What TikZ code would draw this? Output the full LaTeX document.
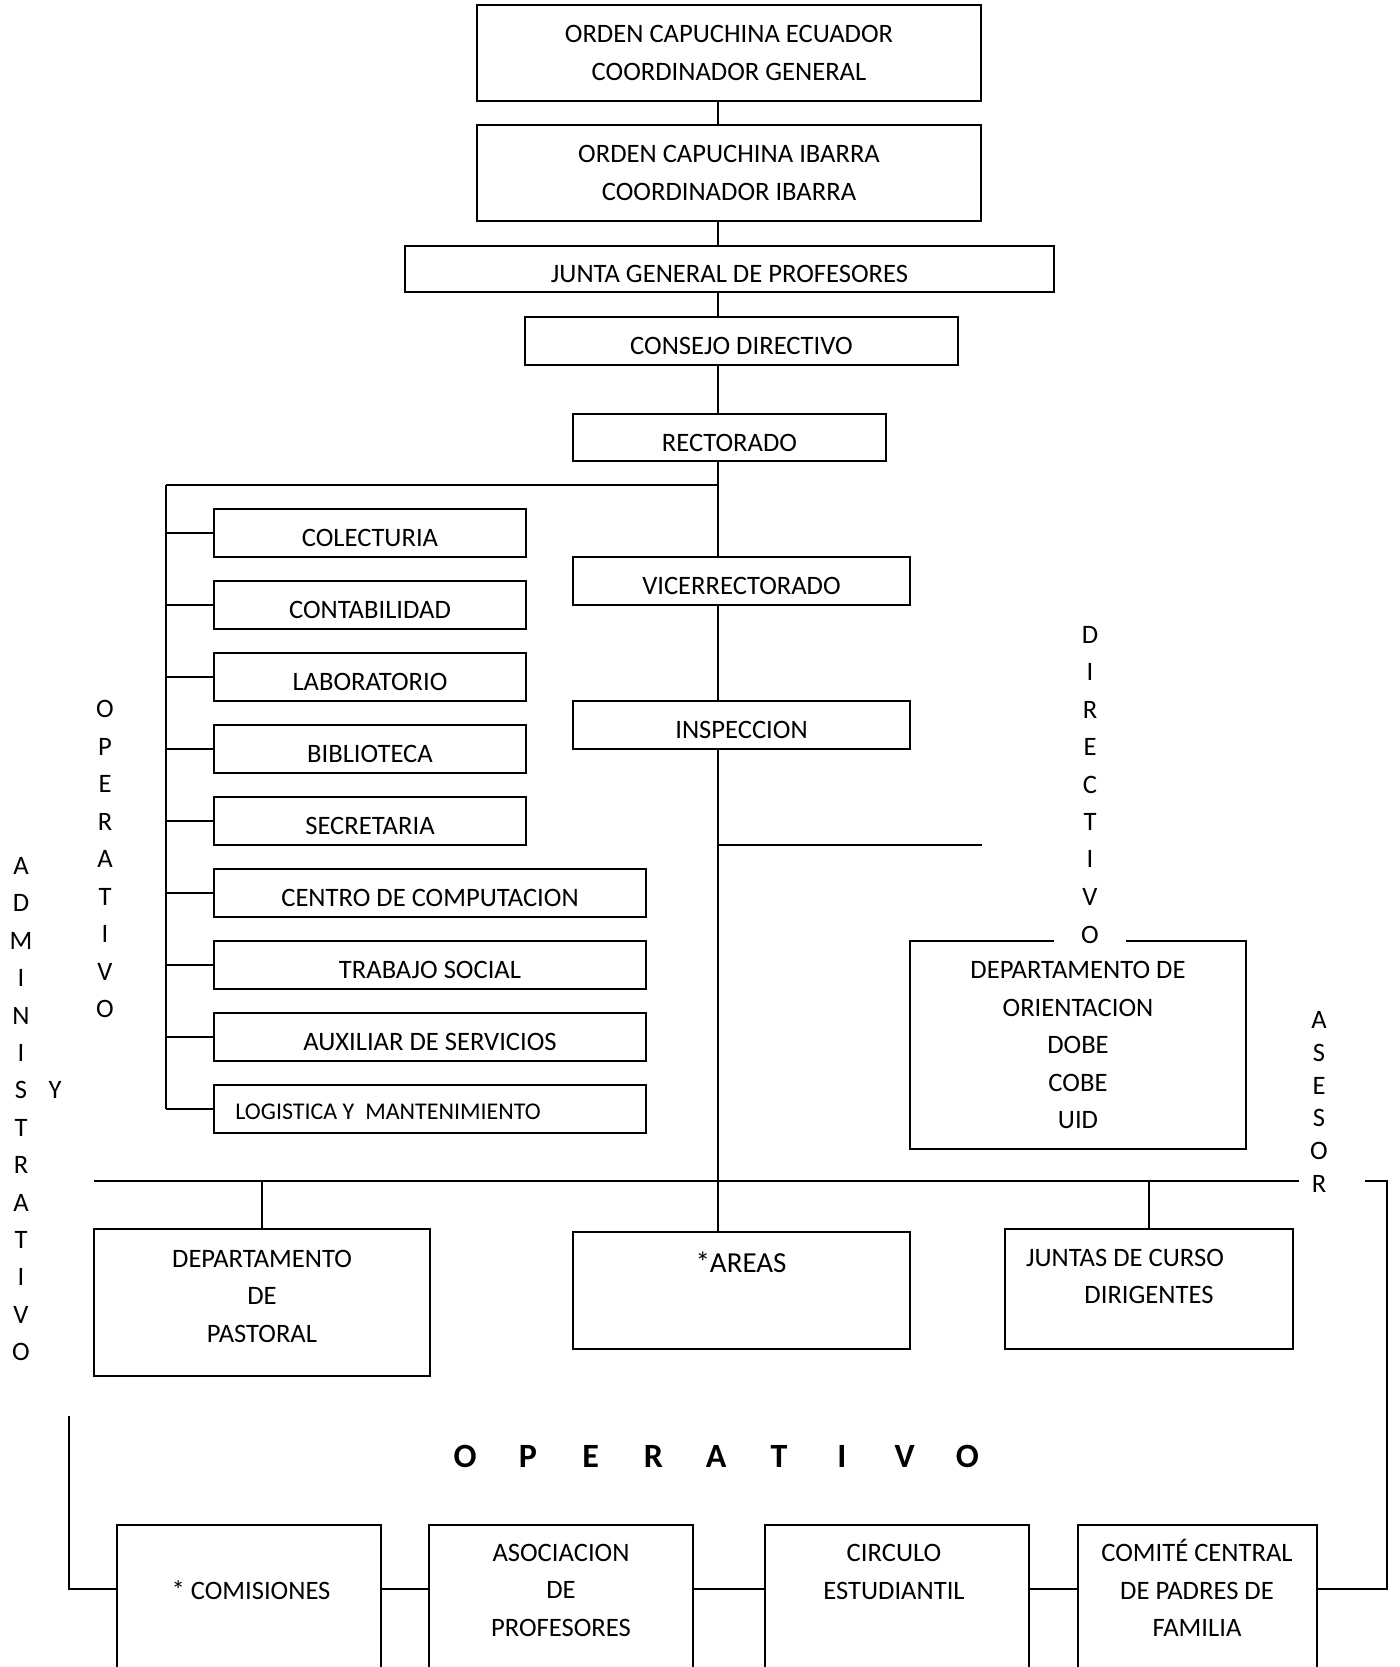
\documentclass[tikz,border=0pt]{standalone}
\usepackage{fontspec}
\setmainfont{Carlito}
\newcommand\orgbox[7][]{%
  \node[box, #1, minimum width={(#5-#3)*0.5pt}, minimum height={(#6-#4)*0.5pt}] (#2) at ({(#3+#5)/2},{(#4+#6)/2}) {#7};}
\begin{document}
\begin{tikzpicture}[x=0.5pt,y=-0.5pt,
  box/.style={draw, line width=1pt, inner sep=0pt, align=center, font=\fontsize{13.3}{18.75}\selectfont},
  sl/.style={text height=13.5pt, text depth=0pt},
  conn/.style={line width=0.75pt},
  hconn/.style={line width=0.9pt},
  lbl/.style={inner sep=0pt, align=center, font=\fontsize{13.3}{18.75}\selectfont},
  vlet/.style={inner sep=0pt, font=\fontsize{13.3}{16}\selectfont},
  big/.style={inner sep=0pt, font=\fontsize{17}{19}\selectfont\bfseries}]
\useasboundingbox (0,0) rectangle (1399,1667);
\clip (0,0) rectangle (1399,1667);
% top chain
\orgbox{ecu}{477}{5}{981}{101}{ORDEN CAPUCHINA ECUADOR\\COORDINADOR GENERAL}
\orgbox{iba}{477}{125}{981}{221}{ORDEN CAPUCHINA IBARRA\\COORDINADOR IBARRA}
\orgbox[sl]{jun}{405}{246}{1054}{292}{JUNTA GENERAL DE PROFESORES}
\orgbox[sl]{con}{525}{317}{958}{365}{CONSEJO DIRECTIVO}
\orgbox[sl]{rec}{573}{414}{886}{461}{RECTORADO}
\orgbox[sl]{vic}{573}{557}{910}{605}{VICERRECTORADO}
\orgbox[sl]{ins}{573}{701}{910}{749}{INSPECCION}
% left column
\orgbox[sl]{col}{214}{509}{526}{557}{COLECTURIA}
\orgbox[sl]{cont}{214}{581}{526}{629}{CONTABILIDAD}
\orgbox[sl]{lab}{214}{653}{526}{701}{LABORATORIO}
\orgbox[sl]{bib}{214}{725}{526}{773}{BIBLIOTECA}
\orgbox[sl]{sec}{214}{797}{526}{845}{SECRETARIA}
\orgbox[sl]{cen}{214}{869}{646}{917}{CENTRO DE COMPUTACION}
\orgbox[sl]{tra}{214}{941}{646}{989}{TRABAJO SOCIAL}
\orgbox[sl]{aux}{214}{1013}{646}{1061}{AUXILIAR DE SERVICIOS}
\orgbox{log}{214}{1085}{646}{1133}{}
\node[lbl, anchor=west, font=\fontsize{12}{14}\selectfont] (logt) at (235,1112) {LOGISTICA Y\ \ MANTENIMIENTO};
% orientation department
\orgbox{ori}{910}{941}{1246}{1149}{DEPARTAMENTO DE\\ORIENTACION\\DOBE\\COBE\\UID}
% lower row
\orgbox{pas}{94}{1229}{430}{1376}{}
\node[lbl] (past) at (262,1296) {DEPARTAMENTO\\DE\\PASTORAL};
\orgbox{are}{573}{1232}{910}{1349}{}
\node[lbl, font=\fontsize{14.5}{18}\selectfont] (aret) at (741,1262) {*AREAS};
\orgbox{jcd}{1005}{1229}{1293}{1349}{}
\node[lbl] (jcd1) at (1125,1258) {JUNTAS DE CURSO};
\node[lbl] (jcd2) at (1149,1295) {DIRIGENTES};
% bottom row
\orgbox{com}{117}{1525}{381}{1700}{}
\orgbox{aso}{429}{1525}{693}{1700}{}
\orgbox{cir}{765}{1525}{1029}{1700}{}
\orgbox{cmt}{1078}{1525}{1317}{1700}{}
\node[lbl] (comt) at (251,1590) {* COMISIONES};
\node[lbl] (asot) at (561,1590) {ASOCIACION\\DE\\PROFESORES};
\node[lbl] (cirt) at (894,1572) {CIRCULO\\ESTUDIANTIL};
\node[lbl] (cmtt) at (1197,1588) {COMITÉ CENTRAL\\DE PADRES DE\\FAMILIA};
% connectors
\coordinate (sp) at (718,0);
\draw[conn] (ecu.south -| sp) -- (iba.north -| sp);
\draw[conn] (iba.south -| sp) -- (jun.north -| sp);
\draw[conn] (jun.south -| sp) -- (con.north -| sp);
\draw[conn] (con.south -| sp) -- (rec.north -| sp);
\draw[conn] (rec.south -| sp) -- (vic.north -| sp);
\draw[conn] (vic.south -| sp) -- (ins.north -| sp);
\draw[conn] (ins.south -| sp) -- (are.north -| sp);
\coordinate (br) at (718,485);
\coordinate (lt) at (166,485);
\draw[hconn] (br) -- (lt);
\draw[conn] (lt) -- (lt |- log.west);
\foreach \n in {col,cont,lab,bib,sec,cen,tra,aux,log}
  \draw[conn] (lt |- \n.west) -- (\n.west);
\coordinate (ds) at (718,845);
\coordinate (de) at (982,845);
\draw[conn] (ds) -- (de);
\coordinate (hl) at (94,1181);
\coordinate (hr) at (1299,1181);
\draw[hconn] (hl) -- (hr);
\draw[conn] (pas.north |- hl) -- (pas.north);
\draw[conn] (jcd.north |- hl) -- (jcd.north);
\coordinate (by) at (0,1589);
\coordinate (r1) at (1365,1181);
\coordinate (r2) at (1387,1181);
\draw[conn] (r1) -- (r2) -- (r2 |- by) -- (cmt.east |- by);
\coordinate (l1) at (69,1416);
\draw[conn] (l1) -- (l1 |- by) -- (com.west |- by);
\draw[conn] (com.east |- by) -- (aso.west |- by);
\draw[conn] (aso.east |- by) -- (cir.west |- by);
\draw[conn] (cir.east |- by) -- (cmt.west |- by);
% vertical words
\foreach \l [count=\i] in {A,D,M,I,N,I,S,T,R,A,T,I,V,O}
  \node[vlet] (adm\i) at (21,{866+37.4*(\i-1)}) {\l};
\node[vlet] (ylet) at (55,1090) {Y};
\foreach \l [count=\i] in {O,P,E,R,A,T,I,V,O}
  \node[vlet] (ope\i) at (105,{709+37.5*(\i-1)}) {\l};
\foreach \l [count=\i] in {D,I,R,E,C,T,I,V}
  \node[vlet] (dir\i) at (1090,{635+37.4*(\i-1)}) {\l};
\node[vlet, fill=white, minimum width=36pt, inner ysep=1pt] (dir9) at (1090,935) {O};
\foreach \l [count=\i] in {A,S,E,S,O,R}
  \node[vlet] (ase\i) at (1319,{1020+32.8*(\i-1)}) {\l};
\foreach \l [count=\i] in {O,P,E,R,A,T,I,V,O}
  \node[big] (bop\i) at ({465+62.8*(\i-1)},1456) {\l};
\end{tikzpicture}
\end{document}
